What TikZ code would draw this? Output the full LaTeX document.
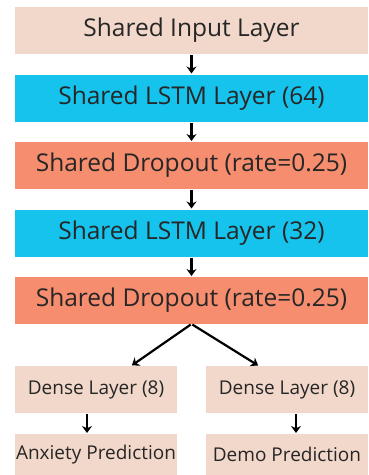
\documentclass[tikz,border=0pt]{standalone}
\usepackage{fontspec}
\setmainfont{Open Sans}
\usepackage{tikz}
\usetikzlibrary{positioning}
\usetikzlibrary{arrows}
\usetikzlibrary{arrows.meta}
\definecolor{layerbeige}{HTML}{F2D8CA}
\definecolor{lstmcyan}{HTML}{15C3EC}
\definecolor{dropsalmon}{HTML}{F58D6E}
\tikzset{shared node/.style={rectangle,minimum width=353pt,minimum height=47pt,inner sep=0pt,outer sep=0pt,font=\fontsize{24.5}{28}\selectfont,text=black!85},
head node/.style={rectangle,fill=layerbeige,minimum width=162pt,minimum height=47pt,inner sep=0pt,outer sep=0pt,font=\fontsize{19}{22}\selectfont,text=black!85},}

\begin{document}
\begin{tikzpicture}[->, >={Stealth[length=7pt,width=10pt]}, node distance=20.5pt, line width=2.2pt]
		\useasboundingbox (0,0) rectangle (368pt,-475pt);
		\node[shared node,fill=layerbeige] (input) at (191.5pt,-30.5pt) {Shared Input Layer};
	    \node[shared node,fill=lstmcyan] (lstma) [below = of input] {Shared LSTM Layer (64)};
	    \node[shared node,fill=dropsalmon] (dropa) [below = of lstma] {Shared Dropout (rate=0.25)};
	    \node[shared node,fill=lstmcyan] (lstmb) [below = of dropa] {Shared LSTM Layer (32)};
	    \node[shared node,fill=dropsalmon] (dropb) [below = of lstmb] {Shared Dropout (rate=0.25)};
	    \node[head node] (densea) [below = 42pt of dropb.south west, anchor=north west] {Dense Layer (8)};
	    \node[head node] (denseb) [below = 42pt of dropb.south east, anchor=north east] {Dense Layer (8)};
	    \node[head node,minimum height=41pt] (anxiety) [below = 21pt of densea] {Anxiety Prediction};
	    \node[head node,minimum height=41pt] (demo) [below = 21pt of denseb] {Demo Prediction};
	
	    \path[shorten >=1pt,shorten <=1pt]
	    (input) edge (lstma)
	    (lstma) edge (dropa)
	    (dropa) edge (lstmb)
	    (lstmb) edge (dropb)
	    (dropb.south) edge ([xshift=35pt]densea.north)
	    (dropb.south) edge ([xshift=-28pt]denseb.north)
	    ([xshift=-9pt]densea.south) edge ([xshift=-9pt]anxiety.north)
	    ([xshift=9pt]denseb.south) edge ([xshift=9pt]demo.north);
\end{tikzpicture}
\end{document}
